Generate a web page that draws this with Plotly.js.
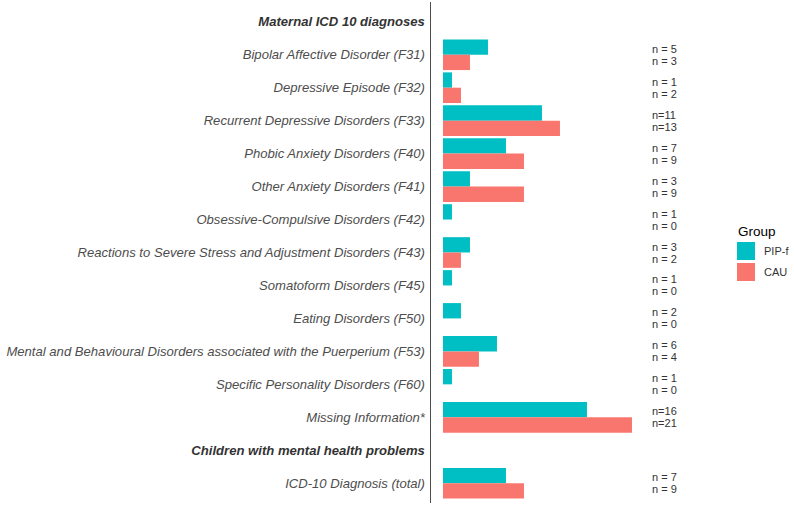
<!DOCTYPE html>
<html>
<head>
<meta charset="utf-8">
<script src="https://cdn.plot.ly/plotly-3.0.1.min.js"></script>
<style>body{margin:0;padding:0;background:#fff}#chart{width:794px;height:508px}</style>
</head>
<body>
<div id="chart"></div>
<script>
// Category labels (top to bottom)
const categories = [
  "Maternal ICD 10 diagnoses",
  "Bipolar Affective Disorder (F31)",
  "Depressive Episode (F32)",
  "Recurrent Depressive Disorders (F33)",
  "Phobic Anxiety Disorders (F40)",
  "Other Anxiety Disorders (F41)",
  "Obsessive-Compulsive Disorders (F42)",
  "Reactions to Severe Stress and Adjustment Disorders (F43)",
  "Somatoform Disorders (F45)",
  "Eating Disorders (F50)",
  "Mental and Behavioural Disorders associated with the Puerperium (F53)",
  "Specific Personality Disorders (F60)",
  "Missing Information*",
  "Children with mental health problems",
  "ICD-10 Diagnosis (total)"
];
const headers = ["Maternal ICD 10 diagnoses", "Children with mental health problems"];

// Series values (null = header row, no bar)
const pipValues = [null, 5, 1, 11, 7, 3, 1, 3, 1, 2, 6, 1, 16, null, 7];
const cauValues = [null, 3, 2, 13, 9, 9, 0, 2, 0, 0, 4, 0, 21, null, 9];

// n labels
const pipLabels = [null, "n = 5", "n = 1", "n=11", "n = 7", "n = 3", "n = 1", "n = 3", "n = 1", "n = 2", "n = 6", "n = 1", "n=16", null, "n = 7"];
const cauLabels = [null, "n = 3", "n = 2", "n=13", "n = 9", "n = 9", "n = 0", "n = 2", "n = 0", "n = 0", "n = 4", "n = 0", "n=21", null, "n = 9"];

const seriesNames = ["PIP-f", "CAU"];
const legendTitle = "Group";
const colors = ["#00BFC4", "#F8766D"];

const FONT = "Liberation Sans, Arial, sans-serif";

const traces = [pipValues, cauValues].map((vals, k) => ({
  type: "bar",
  orientation: "h",
  name: seriesNames[k],
  y: categories,
  x: vals,
  marker: {color: colors[k], line: {width: 0}},
  showlegend: false,
  hoverinfo: "x+y"
}));

const tickText = categories.map(c => headers.includes(c)
  ? "<span style='color:#333333'><b><i>" + c + "</i></b></span>"
  : "<i>" + c + "</i>");

// plot area in pixels (for legend placement in paper coords)
const W = 794, H = 508, mL = 431, mR = 94, mT = 2, mB = 5;
const pw = W - mL - mR, ph = H - mT - mB;
const px = v => (v - mL) / pw;
const py = v => (H - mB - v) / ph;

const annotations = [];
categories.forEach((c, i) => {
  if (pipLabels[i]) annotations.push({x: 23, y: c, xref: "x", yref: "y", text: pipLabels[i], showarrow: false, xanchor: "left", yanchor: "middle", yshift: 6, font: {family: FONT, size: 11, color: "#333333"}});
  if (cauLabels[i]) annotations.push({x: 23, y: c, xref: "x", yref: "y", text: cauLabels[i], showarrow: false, xanchor: "left", yanchor: "middle", yshift: -6, font: {family: FONT, size: 11, color: "#333333"}});
});

// manual legend
annotations.push({x: px(736), y: py(231), xref: "paper", yref: "paper", text: legendTitle, showarrow: false, xanchor: "left", yanchor: "middle", font: {family: FONT, size: 13.5, color: "#000000"}});
const shapes = [];
seriesNames.forEach((n, k) => {
  const top = 242 + k * 21;
  shapes.push({type: "rect", xref: "paper", yref: "paper", x0: px(737), x1: px(755), y0: py(top), y1: py(top + 18), fillcolor: colors[k], line: {width: 0}});
  annotations.push({x: px(762), y: py(top + 9), xref: "paper", yref: "paper", text: n, showarrow: false, xanchor: "left", yanchor: "middle", font: {family: FONT, size: 11, color: "#333333"}});
});

const layout = {
  width: W, height: H,
  margin: {l: mL, r: mR, t: mT, b: mB},
  paper_bgcolor: "#ffffff", plot_bgcolor: "#ffffff",
  barmode: "group", bargap: 0.07, bargroupgap: 0,
  font: {family: FONT},
  xaxis: {range: [-1.33, 28.56], showgrid: false, zeroline: false, showline: false, showticklabels: false, ticks: "", fixedrange: true},
  yaxis: {
    type: "category", categoryorder: "array", categoryarray: categories,
    range: [14.6, -0.6], autorange: false,
    tickmode: "array", tickvals: categories, ticktext: tickText,
    showgrid: false, zeroline: false,
    showline: true, linecolor: "#4D4D4D", linewidth: 1.5,
    ticks: "outside", ticklen: 2, tickcolor: "rgba(0,0,0,0)",
    tickfont: {family: FONT, size: 13.1, color: "#4D4D4D"}
  },
  showlegend: false,
  shapes: shapes,
  annotations: annotations
};

Plotly.newPlot("chart", traces, layout, {displayModeBar: false, staticPlot: true});
</script>
</body>
</html>
